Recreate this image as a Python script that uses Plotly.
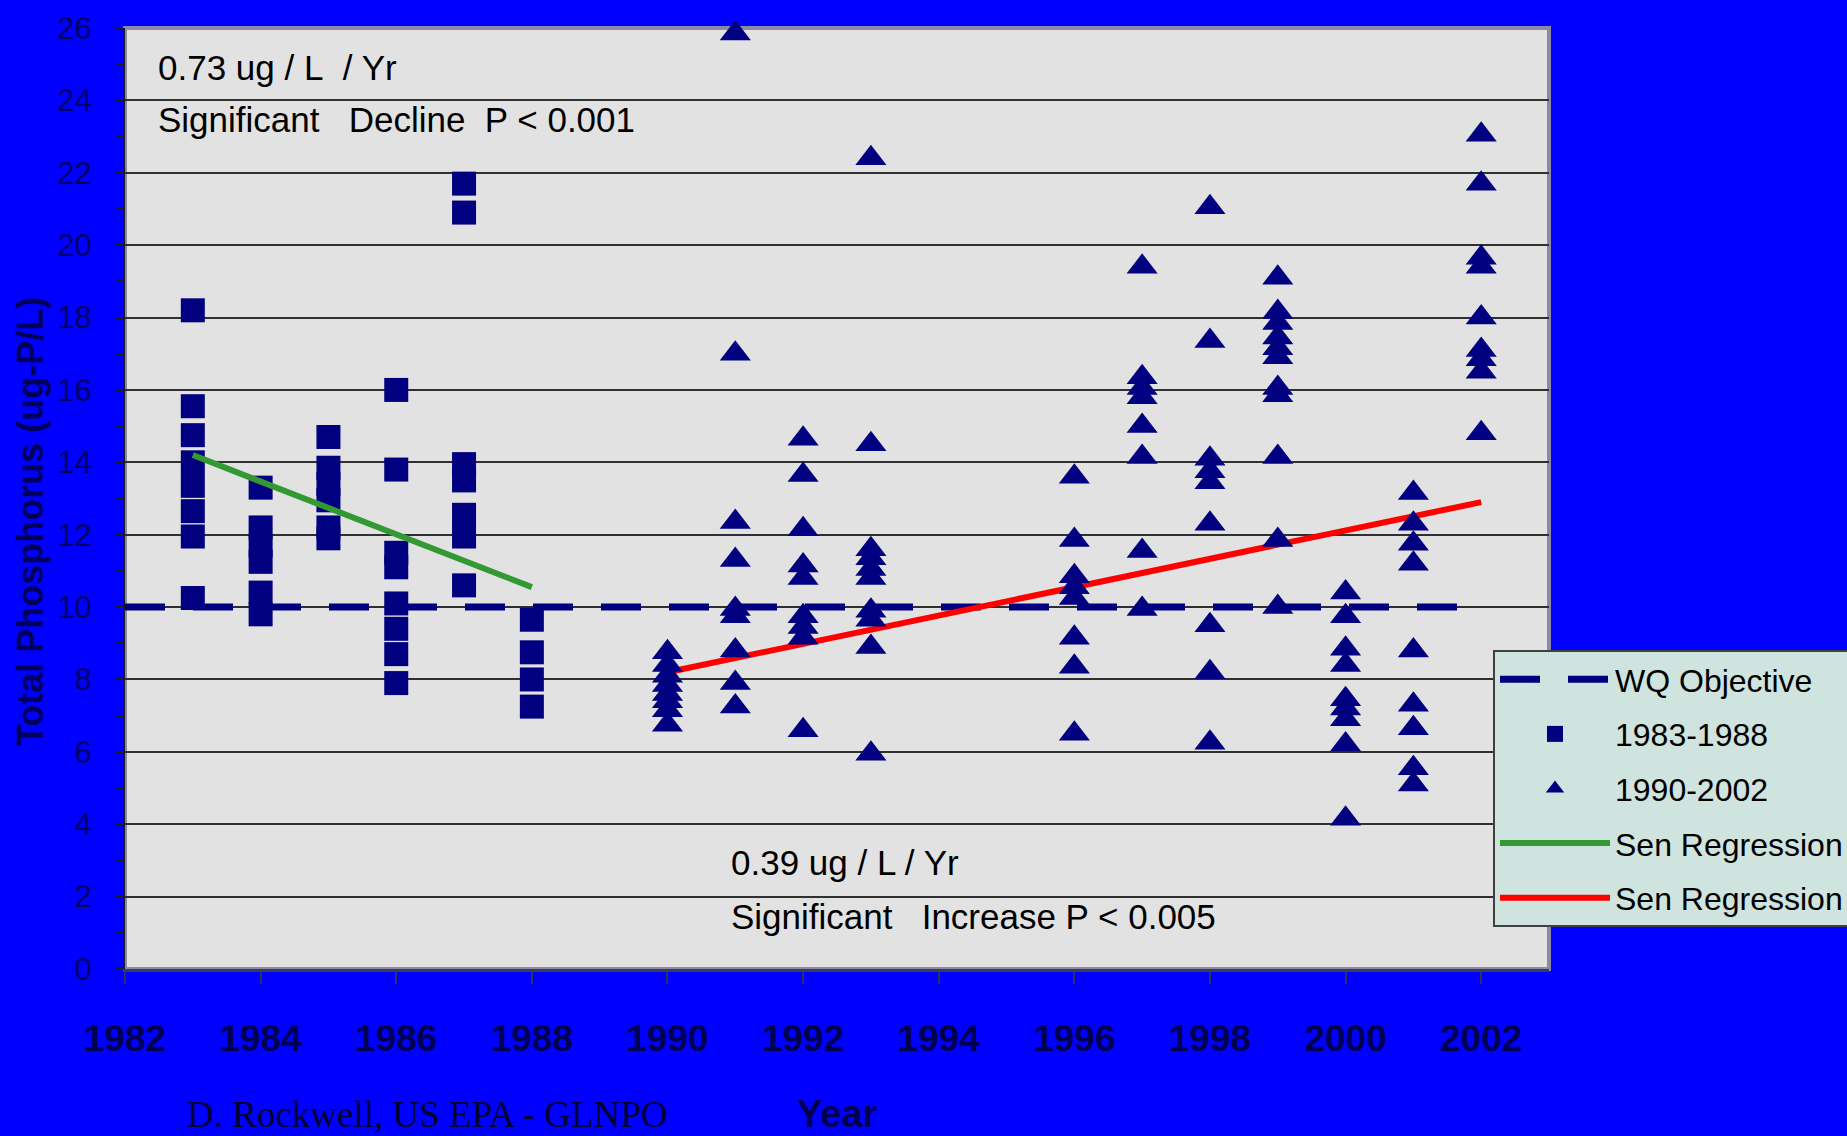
import plotly.graph_objects as go

# ---------------- data ----------------
early_years = [1983, 1984, 1985, 1986, 1987, 1988]
early_tp = [
    [18.2, 15.55, 14.75, 14.0, 13.35, 12.65, 11.95, 10.25],
    [13.3, 12.2, 11.7, 11.25, 10.4, 9.8],
    [14.7, 13.85, 13.4, 12.95, 12.2, 11.9],
    [16.0, 13.8, 11.5, 11.1, 10.1, 9.4, 8.7, 7.9],
    [21.7, 20.9, 13.95, 13.5, 12.55, 11.95, 10.6],
    [9.65, 8.75, 8.0, 7.25],
]

late_years = [1990, 1991, 1992, 1993, 1996, 1997, 1998, 1999, 2000, 2001, 2002]
late_tp = [
    [8.75, 8.4, 8.1, 7.85, 7.6, 7.4, 7.15, 6.75],
    [25.85, 17.0, 12.35, 11.3, 9.95, 9.75, 8.8, 7.9, 7.25],
    [14.65, 13.65, 12.15, 11.15, 10.8, 9.75, 9.45, 9.15, 6.6],
    [22.4, 14.5, 11.6, 11.35, 11.05, 10.8, 9.9, 9.65, 8.9, 5.95],
    [13.6, 11.85, 10.85, 10.55, 10.25, 9.15, 8.35, 6.5],
    [19.4, 16.35, 16.05, 15.8, 15.0, 14.15, 11.55, 9.95],
    [21.05, 17.35, 14.1, 13.75, 13.45, 12.3, 9.5, 8.2, 6.25],
    [19.1, 18.15, 17.85, 17.45, 17.15, 16.9, 16.05, 15.85, 14.15, 11.85, 10.0],
    [10.4, 9.75, 8.85, 8.4, 7.45, 7.2, 6.9, 6.2, 4.15],
    [13.15, 12.3, 11.75, 11.2, 8.8, 7.3, 6.65, 5.55, 5.1],
    [23.05, 21.7, 19.65, 19.4, 18.0, 17.1, 16.85, 16.5, 14.8],
]

wq_years = [1982, 2002]
wq_value = [10, 10]

sen_early_years = [1983, 1988]
sen_early_tp = [14.2, 10.55]

sen_late_years = [1990, 2002]
sen_late_tp = [8.2, 12.9]

x_ticks = list(range(1982, 2003, 2))
y_ticks = list(range(0, 27, 2))

legend_names = ["WQ Objective", "1983-1988", "1990-2002", "Sen Regression", "Sen Regression"]

# ---------------- styling ----------------
NAVY = "#000080"
W, H = 1847, 1136
L, R, T, B = 125, 298, 28, 167
PW, PH = W - L - R, H - T - B

def flat(years, groups):
    xs, ys = [], []
    for yr, vals in zip(years, groups):
        for v in vals:
            xs.append(yr)
            ys.append(v)
    return xs, ys

ex, ey = flat(early_years, early_tp)
lx, ly = flat(late_years, late_tp)

fig = go.Figure()

fig.add_trace(go.Scatter(
    x=wq_years, y=wq_value, mode="lines", name=legend_names[0],
    line=dict(color=NAVY, width=7, dash="40px,28px"),
    legendgroup="a", legendrank=1,
))
fig.add_trace(go.Scatter(
    x=ex, y=ey, mode="markers", name=legend_names[1],
    marker=dict(symbol="square", size=24, color=NAVY, line=dict(width=0)),
    legendgroup="b", legendrank=2, cliponaxis=False,
))
fig.add_trace(go.Scatter(
    x=sen_early_years, y=sen_early_tp, mode="lines", name=legend_names[3],
    line=dict(color="#339933", width=6),
    legendgroup="d", legendrank=4,
))
fig.add_trace(go.Scatter(
    x=sen_late_years, y=sen_late_tp, mode="lines", name=legend_names[4],
    line=dict(color="#ff0000", width=6),
    legendgroup="e", legendrank=5,
))
fig.add_trace(go.Scatter(
    x=lx, y=ly, mode="markers", name=legend_names[2],
    marker=dict(symbol="triangle-up", size=27, color=NAVY, line=dict(width=0)),
    legendgroup="c", legendrank=3, cliponaxis=False,
))

ann_font = dict(family="Liberation Sans, Arial, sans-serif", size=35, color="#000000")
annotations = [
    dict(x=1982.45, y=24.9, xref="x", yref="y", xanchor="left", yanchor="middle",
         text="0.73 ug / L\u00a0\u00a0/ Yr", showarrow=False, font=ann_font),
    dict(x=1982.45, y=23.46, xref="x", yref="y", xanchor="left", yanchor="middle",
         text="Significant\u00a0\u00a0\u00a0Decline\u00a0\u00a0P < 0.001", showarrow=False, font=ann_font),
    dict(x=1990.9, y=2.93, xref="x", yref="y", xanchor="left", yanchor="middle",
         text="0.39 ug / L / Yr", showarrow=False, font=ann_font),
    dict(x=1990.9, y=1.45, xref="x", yref="y", xanchor="left", yanchor="middle",
         text="Significant\u00a0\u00a0\u00a0Increase P < 0.005", showarrow=False, font=ann_font),
    dict(x=(30 - L) / PW, y=(H - B - 522) / PH, xref="paper", yref="paper",
         xanchor="center", yanchor="middle", textangle=-90,
         text="Total Phosphorus (ug-P/L)", showarrow=False,
         font=dict(family="Liberation Sans, Arial, sans-serif", size=36, color="#00005a", weight="bold")),
    dict(x=(837 - L) / PW, y=(H - B - 1114) / PH, xref="paper", yref="paper",
         xanchor="center", yanchor="middle", text="Year", showarrow=False,
         font=dict(family="Liberation Sans, Arial, sans-serif", size=38, color="#000050", weight="bold")),
    dict(x=(185 - L) / PW, y=(H - B - 1114) / PH, xref="paper", yref="paper",
         xanchor="left", yanchor="middle", text="D. Rockwell, US EPA - GLNPO", showarrow=False,
         font=dict(family="Liberation Serif, Times New Roman, serif", size=37, color="#000033")),
]

fig.update_layout(
    width=W, height=H,
    margin=dict(l=L, r=R, t=T, b=B, pad=0, autoexpand=False),
    paper_bgcolor="#0000ff",
    plot_bgcolor="#e2e2e2",
    showlegend=True,
    legend=dict(
        x=(1493 - L) / PW, y=(H - B - 650) / PH,
        xanchor="left", yanchor="top",
        bgcolor="#cfe3df", bordercolor="#404040", borderwidth=2,
        font=dict(family="Liberation Sans, Arial, sans-serif", size=32, color="#000000"),
        itemwidth=110, tracegroupgap=10, traceorder="grouped",
    ),
    annotations=annotations,
    shapes=[dict(type="rect", xref="paper", yref="paper", x0=0, y0=0, x1=1, y1=1,
                 line=dict(color="#8a8aa8", width=4), layer="below")],
    xaxis=dict(
        range=[1982, 2003], tickmode="array", tickvals=x_ticks,
        ticks="outside", ticklen=12, tickwidth=1.5, tickcolor="#303060",
        showgrid=False, zeroline=False, automargin=False,
        showline=True, linecolor="#3a3a66", linewidth=3,
        tickfont=dict(family="Liberation Sans, Arial, sans-serif", size=37, color="#000050", weight="bold"),
        ticklabelstandoff=23,
    ),
    yaxis=dict(
        range=[0, 26], tickmode="array", tickvals=y_ticks,
        ticks="outside", ticklen=7, tickwidth=1.5, tickcolor="#202020",
        showgrid=True, gridcolor="#303030", gridwidth=1.5, zeroline=False, automargin=False,
        showline=True, linecolor="#1a1a1a", linewidth=2,
        minor=dict(dtick=1, tick0=0, ticks="outside", ticklen=5, tickcolor="#202020", showgrid=False),
        tickfont=dict(family="Liberation Sans, Arial, sans-serif", size=31, color="#000066"),
        ticklabelstandoff=18,
    ),
)

fig.write_html(
    "out.html",
    config={"displayModeBar": False},
    post_script="document.body.style.margin='0px';document.body.style.padding='0px';"
                "document.body.style.overflow='hidden';",
)
